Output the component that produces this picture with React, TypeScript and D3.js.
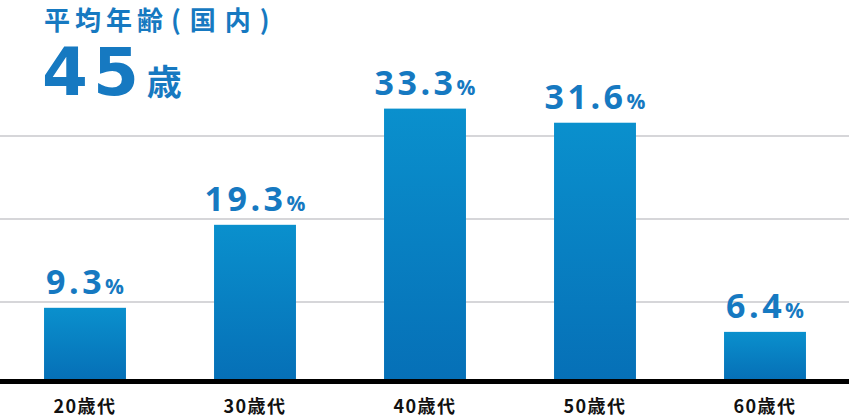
import React from "react";
import * as d3 from "d3";

const categories = ["20歳代", "30歳代", "40歳代", "50歳代", "60歳代"];
const values = [9.3, 19.3, 33.3, 31.6, 6.4];
const gridValues = [10, 20, 30];
const titleMain = "平均年齢";
const titleParen = "(国内)";
const avgAge = "45";
const avgUnit = "歳";

const W = 849;
const H = 417;
const BLUE = "#1679c1";
const NUM_FONT = "'Open Sans', 'Noto Sans', sans-serif";
const BIG_FONT = "'DejaVu Sans', 'Open Sans', sans-serif";
const JP_FONT = "'Noto Sans CJK JP', 'Noto Sans', sans-serif";

export default function App() {
  const x = d3
    .scaleBand<string>()
    .domain(categories)
    .range([0, 850])
    .paddingInner(0.518)
    .paddingOuter(0.259);
  const y = d3.scaleLinear().domain([0, 40]).range([385, 385 - 8.3 * 40]);
  const baseTop = 379;

  return (
    <svg
      width={W}
      height={H}
      style={{ position: "absolute", left: 0, top: 0, display: "block" }}
    >
      <defs>
        <linearGradient id="barGrad" x1="0" y1="0" x2="0" y2="1">
          <stop offset="0%" stopColor="#0a90cd" />
          <stop offset="100%" stopColor="#0670b7" />
        </linearGradient>
      </defs>
      <rect width={W} height={H} fill="#fff" />
      {gridValues.map((g) => (
        <line
          key={g}
          x1={0}
          x2={W}
          y1={y(g)}
          y2={y(g)}
          stroke="#c8c8cd"
          strokeWidth={1.5}
        />
      ))}
      {categories.map((c, i) => {
        const bx = x(c)!;
        const top = y(values[i]);
        return (
          <g key={c}>
            <rect
              x={bx}
              y={top}
              width={x.bandwidth()}
              height={baseTop - top}
              fill="url(#barGrad)"
            />
            <text
              x={bx + x.bandwidth() / 2}
              y={top - 14}
              textAnchor="middle"
              fill={BLUE}
              fontFamily={NUM_FONT}
              fontWeight={700}
            >
              <tspan fontSize={34} letterSpacing={3.5}>
                {values[i].toFixed(1)}
              </tspan>
              <tspan fontSize={21} dx={0}>%</tspan>
            </text>
            <text
              x={bx + x.bandwidth() / 2}
              y={413}
              textAnchor="middle"
              fill="#111"
              fontFamily={JP_FONT}
              fontWeight={700}
              fontSize={18}
              letterSpacing={1.5}
            >
              {c}
            </text>
          </g>
        );
      })}
      <line x1={0} x2={W} y1={381.5} y2={381.5} stroke="#000" strokeWidth={5} />
      <text
        x={44}
        y={30}
        fill={BLUE}
        fontFamily={JP_FONT}
        fontWeight={700}
        fontSize={26}
        letterSpacing={5}
      >
        {titleMain}
        <tspan dx={3} letterSpacing={9}>{titleParen}</tspan>
      </text>
      <text x={42} y={95} fill={BLUE} fontFamily={BIG_FONT} fontWeight={700}>
        <tspan fontSize={66} letterSpacing={5}>{avgAge}</tspan>
        <tspan fontSize={35} fontFamily={JP_FONT} dx={3}>{avgUnit}</tspan>
      </text>
    </svg>
  );
}
